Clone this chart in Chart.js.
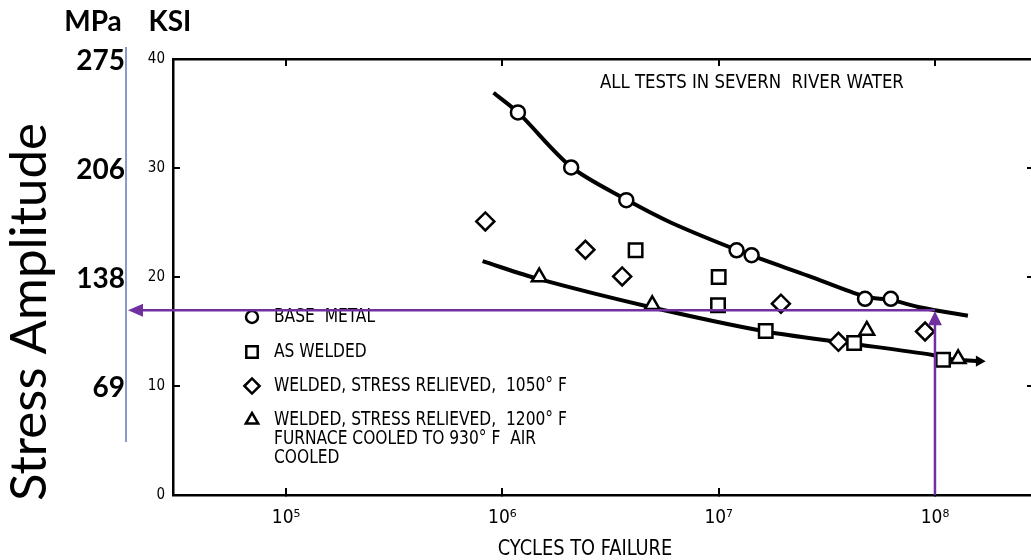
<!DOCTYPE html>
<html>
<head>
<meta charset="utf-8">
<script src="https://cdn.jsdelivr.net/npm/chart.js@4.4.1/dist/chart.umd.min.js"></script>
<style>
html, body { margin: 0; padding: 0; overflow: hidden; background: #fff; }
#wrap { position: relative; width: 1046px; height: 560px; }
</style>
</head>
<body>
<div id="wrap"><canvas id="sn" width="1046" height="560"></canvas></div>
<script>
// S-N data: cycles to failure vs stress amplitude (ksi)
const baseMetalCycles = [1.18e6, 2.08e6, 3.74e6, 1.21e7, 1.42e7, 4.75e7, 6.25e7];
const baseMetalKsi    = [35.1, 30.05, 27.05, 22.45, 22.0, 18.0, 18.0];
const asWeldedCycles  = [4.13e6, 1.0e7, 9.93e6, 1.65e7, 4.23e7, 1.09e8];
const asWeldedKsi     = [22.45, 20.0, 17.4, 15.05, 13.95, 12.4];
const sr1050Cycles    = [8.34e5, 2.42e6, 3.58e6, 1.94e7, 3.58e7, 9.0e7];
const sr1050Ksi       = [25.1, 22.5, 20.05, 17.55, 14.05, 15.0];
const sr1200Cycles    = [1.48e6, 4.93e6, 4.84e7, 1.28e8];
const sr1200Ksi       = [20.0, 17.45, 15.1, 12.5];

// faired curves drawn through the points
const upperCurveCycles = [9.1e5, 1.18e6, 2.08e6, 3.74e6, 6.0e6, 1.3e7, 2.6e7, 4.75e7, 6.25e7, 8.6e7, 1.42e8];
const upperCurveKsi    = [36.9, 35.1, 30.1, 27.1, 25.0, 22.25, 20.1, 18.2, 17.9, 17.2, 16.45];
const lowerCurveCycles = [8.1e5, 1.48e6, 4.93e6, 1.65e7, 3.9e7, 9.75e7, 1.09e8, 1.28e8, 1.6e8];
const lowerCurveKsi    = [21.45, 19.8, 17.2, 15.0, 13.95, 12.85, 12.55, 12.4, 12.28];

// axes
const xTicks = [1e5, 1e6, 1e7, 1e8];
const xTickLabels = ['10⁵', '10⁶', '10⁷', '10⁸'];
const ksiTicks = [10, 20, 30, 40];
const mpaLabels = ['69', '138', '206', '275'];

// read-off marker (purple arrows)
const readCycles = [1e8];
const readKsi = [16.95];

// legend
const legendStyles = ['circle', 'rect', 'rectRot', 'triangle'];
const legendLines = [
  ['BASE  METAL'],
  ['AS WELDED'],
  ['WELDED, STRESS RELIEVED,  1050° F'],
  ['WELDED, STRESS RELIEVED,  1200° F', 'FURNACE COOLED TO 930° F  AIR', 'COOLED']
];

const SCAN = '"DejaVu Sans Condensed", "DejaVu Sans", sans-serif';
const PURPLE = '#7030a0';

const pts = (xs, ys) => xs.map((x, i) => ({ x, y: ys[i] }));

function markerSet(xs, ys, style, r) {
  return { data: pts(xs, ys), pointStyle: style, pointRadius: r, pointBorderWidth: 2.5,
    pointBorderColor: '#000', pointBackgroundColor: '#fff', showLine: false };
}
function curveSet(xs, ys, arrow) {
  const n = xs.length;
  return { data: pts(xs, ys), showLine: true, borderColor: '#000', borderWidth: 4,
    tension: 0.3, pointStyle: 'triangle', pointRotation: 90,
    pointRadius: c => (arrow && c.dataIndex === n - 1) ? 6.5 : 0,
    pointBorderWidth: 0, pointBackgroundColor: '#000' };
}

function scanText(ctx, str, x, y, size, squeeze, align) {
  ctx.save();
  ctx.font = size + 'px ' + SCAN;
  ctx.textBaseline = 'middle';
  ctx.translate(x, y);
  ctx.scale(squeeze, 1);
  ctx.textAlign = align || 'left';
  ctx.fillText(str, 0, 0);
  ctx.restore();
}

function marker(ctx, style, cx, cy, r) {
  ctx.beginPath();
  if (style === 'circle') ctx.arc(cx, cy, r, 0, Math.PI * 2);
  else if (style === 'rect') { const s = r * Math.SQRT1_2; ctx.rect(cx - s, cy - s, 2 * s, 2 * s); }
  else if (style === 'rectRot') { ctx.moveTo(cx - r, cy); ctx.lineTo(cx, cy - r); ctx.lineTo(cx + r, cy); ctx.lineTo(cx, cy + r); ctx.closePath(); }
  else { const h = r * Math.sqrt(3) / 2; ctx.moveTo(cx, cy - r); ctx.lineTo(cx + h, cy + r / 2); ctx.lineTo(cx - h, cy + r / 2); ctx.closePath(); }
  ctx.fill();
  ctx.stroke();
}

const overlay = {
  id: 'overlay',
  afterDraw(chart) {
    const { ctx, chartArea, scales } = chart;
    const xs = scales.x, ys = scales.y;
    ctx.save();
    ctx.fillStyle = '#000';

    // figure texts
    scanText(ctx, 'ALL TESTS IN SEVERN  RIVER WATER', 600, 83, 20, 0.92);
    scanText(ctx, 'CYCLES TO FAILURE', 585, 549, 22, 0.9, 'center');

    // legend
    const rowY = [317, 352, 386, 420];
    const rad = [6.3, 8.5, 8, 7.5];
    ctx.lineWidth = 2.5;
    ctx.strokeStyle = '#000';
    legendStyles.forEach((s, i) => {
      ctx.fillStyle = '#fff';
      marker(ctx, s, 252, rowY[i], rad[i] * 0.95);
      ctx.fillStyle = '#000';
      legendLines[i].forEach((line, j) => scanText(ctx, line, 274, rowY[i] + j * 18.8, 20, 0.86));
    });

    // MPa scale and header
    ctx.font = 'bold 28px Lato, sans-serif';
    ctx.textBaseline = 'middle';
    ctx.textAlign = 'right';
    ksiTicks.forEach((v, i) => ctx.fillText(mpaLabels[i], 125, ys.getPixelForValue(v) + 2));
    ctx.textAlign = 'center';
    ctx.fillText('MPa', 93, 22);
    ctx.fillText('KSI', 170, 22);

    // axis title
    ctx.save();
    ctx.translate(46, 312);
    ctx.rotate(-Math.PI / 2);
    ctx.font = '51px Lato, sans-serif';
    ctx.textAlign = 'center';
    ctx.textBaseline = 'alphabetic';
    ctx.fillText('Stress Amplitude', 0, 0);
    ctx.restore();

    // blue reference line
    ctx.strokeStyle = '#8a9ac6';
    ctx.lineWidth = 2;
    ctx.beginPath(); ctx.moveTo(126, 47); ctx.lineTo(126, 442); ctx.stroke();

    // purple read-off arrows
    const px = xs.getPixelForValue(readCycles[0]);
    const py = ys.getPixelForValue(readKsi[0]);
    ctx.strokeStyle = PURPLE; ctx.fillStyle = PURPLE; ctx.lineWidth = 2.5;
    ctx.beginPath(); ctx.moveTo(px, py); ctx.lineTo(140, py); ctx.stroke();
    ctx.beginPath(); ctx.moveTo(128, py); ctx.lineTo(143, py - 6.5); ctx.lineTo(143, py + 6.5); ctx.closePath(); ctx.fill();
    ctx.beginPath(); ctx.moveTo(px, chartArea.bottom); ctx.lineTo(px, py + 12); ctx.stroke();
    ctx.beginPath(); ctx.moveTo(px, py + 1); ctx.lineTo(px - 7, py + 15); ctx.lineTo(px + 7, py + 15); ctx.closePath(); ctx.fill();
    ctx.restore();
  }
};

const tickGrid = { drawOnChartArea: false, drawTicks: true, tickLength: -7, color: '#000', lineWidth: 2 };
const axisBorder = { display: true, color: '#000', width: 2.5 };
const decadeTicks = s => { s.ticks = xTicks.map(v => ({ value: v })); };

new Chart(document.getElementById('sn'), {
  type: 'scatter',
  data: {
    datasets: [
      markerSet(baseMetalCycles, baseMetalKsi, 'circle', 7),
      markerSet(asWeldedCycles, asWeldedKsi, 'rect', 9.5),
      markerSet(sr1050Cycles, sr1050Ksi, 'rectRot', 9),
      markerSet(sr1200Cycles, sr1200Ksi, 'triangle', 8.5),
      curveSet(upperCurveCycles, upperCurveKsi, false),
      curveSet(lowerCurveCycles, lowerCurveKsi, true)
    ]
  },
  options: {
    responsive: false,
    animation: false,
    events: [],
    layout: { padding: { left: 133, top: 0, right: 0, bottom: 0 } },
    plugins: { legend: { display: false }, tooltip: { enabled: false } },
    scales: {
      x: {
        type: 'logarithmic', position: 'bottom', min: 3.0e4, max: 2.87e8,
        afterBuildTicks: decadeTicks,
        afterFit: s => { s.height = 65; },
        grid: tickGrid, border: axisBorder,
        ticks: { autoSkip: false, maxRotation: 0, padding: 19, color: '#000',
          font: { family: SCAN, size: 19 },
          callback: v => xTickLabels[xTicks.indexOf(v)] }
      },
      x2: {
        type: 'logarithmic', position: 'top', min: 3.0e4, max: 2.87e8,
        afterBuildTicks: decadeTicks,
        afterFit: s => { s.height = 59; },
        grid: tickGrid, border: axisBorder,
        ticks: { display: false }
      },
      y: {
        position: 'left', min: 0, max: 40,
        afterFit: s => { s.width = 40; },
        grid: tickGrid, border: axisBorder,
        ticks: { stepSize: 10, padding: 15, color: '#000', font: { family: SCAN, size: 15 } }
      },
      yr: {
        position: 'right', min: 0, max: 40,
        afterFit: s => { s.width = 7; },
        grid: tickGrid, border: axisBorder,
        ticks: { stepSize: 10, display: false }
      }
    }
  },
  plugins: [overlay]
});
</script>
</body>
</html>
